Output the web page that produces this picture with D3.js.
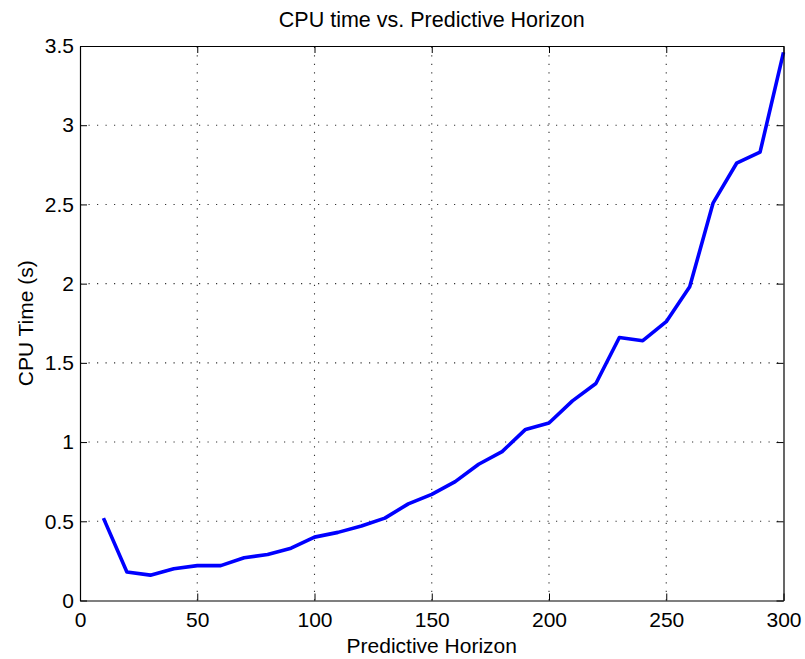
<!DOCTYPE html>
<html>
<head>
<meta charset="utf-8">
<script src="https://cdn.jsdelivr.net/npm/d3@7"></script>
<style>
  html, body { margin: 0; padding: 0; background: #fff; }
  svg { display: block; font-family: "Liberation Sans", Arial, Helvetica, sans-serif; }
</style>
</head>
<body>
<svg id="chart" width="805" height="659"></svg>
<script>
// Predictive horizon lengths and measured CPU time (seconds)
const horizon = [10, 20, 30, 40, 50, 60, 70, 80, 90, 100, 110, 120, 130, 140, 150,
                 160, 170, 180, 190, 200, 210, 220, 230, 240, 250, 260, 270, 280, 290, 300];
const cpuTime = [0.52, 0.18, 0.16, 0.20, 0.22, 0.22, 0.27, 0.29, 0.33, 0.40, 0.43, 0.47, 0.52, 0.61, 0.67,
                 0.75, 0.86, 0.94, 1.08, 1.12, 1.26, 1.37, 1.66, 1.64, 1.76, 1.98, 2.51, 2.76, 2.83, 3.46];
const xTicks = [0, 50, 100, 150, 200, 250, 300];
const yTicks = [0, 0.5, 1, 1.5, 2, 2.5, 3, 3.5];

const titleText = "CPU time vs. Predictive Horizon";
const xLabelText = "Predictive Horizon";
const yLabelText = "CPU Time (s)";

const svg = d3.select("#chart");
const plotLeft = 80, plotRight = 783.5, plotTop = 46, plotBottom = 600.5;
const fontSize = 21;

const x = d3.scaleLinear().domain([0, 300]).range([plotLeft, plotRight]);
const y = d3.scaleLinear().domain([0, 3.5]).range([plotBottom, plotTop]);

// Dotted grid
const grid = svg.append("g").attr("stroke", "#333").attr("stroke-width", 1.1)
  .attr("stroke-dasharray", "1.2,7.3");
grid.selectAll("line.gx").data(xTicks.slice(1, -1)).join("line")
  .attr("class", "gx")
  .attr("x1", d => x(d)).attr("x2", d => x(d)).attr("y1", plotBottom).attr("y2", plotTop);
grid.selectAll("line.gy").data(yTicks.slice(1, -1)).join("line")
  .attr("class", "gy")
  .attr("x1", plotLeft).attr("x2", plotRight).attr("y1", d => y(d)).attr("y2", d => y(d));

// Data line
const line = d3.line().x((d, i) => x(horizon[i])).y(d => y(d));
svg.append("path").datum(cpuTime)
  .attr("fill", "none").attr("stroke", "#0000ff").attr("stroke-width", 3.6)
  .attr("stroke-linejoin", "round")
  .attr("d", line);

// Axes with inward ticks on all four sides
const tickLen = 7;
const axB = d3.axisBottom(x).tickValues(xTicks).tickSizeInner(-tickLen).tickSizeOuter(0).tickPadding(12);
const axT = d3.axisTop(x).tickValues(xTicks).tickSizeInner(-tickLen).tickSizeOuter(0).tickFormat("");
const axL = d3.axisLeft(y).tickValues(yTicks).tickSizeInner(-tickLen).tickSizeOuter(0).tickPadding(6)
  .tickFormat(d => String(d));
const axR = d3.axisRight(y).tickValues(yTicks).tickSizeInner(-tickLen).tickSizeOuter(0).tickFormat("");

function style(g) {
  g.select(".domain").attr("stroke", "#000").attr("stroke-width", 1.2);
  g.selectAll(".tick line").attr("stroke", "#000").attr("stroke-width", 1);
  g.selectAll(".tick text").attr("fill", "#000").attr("font-size", fontSize)
    .attr("font-family", "Liberation Sans, Arial, sans-serif");
}
svg.append("g").attr("transform", `translate(0,${plotBottom})`).call(axB).call(style);
svg.append("g").attr("transform", `translate(0,${plotTop})`).call(axT).call(style);
svg.append("g").attr("transform", `translate(${plotLeft},0)`).call(axL).call(style);
svg.append("g").attr("transform", `translate(${plotRight},0)`).call(axR).call(style);

// Titles
svg.append("text").attr("x", (plotLeft + plotRight) / 2).attr("y", 27)
  .attr("text-anchor", "middle").attr("font-size", 21.5).text(titleText);
svg.append("text").attr("x", (plotLeft + plotRight) / 2).attr("y", 653)
  .attr("text-anchor", "middle").attr("font-size", fontSize).text(xLabelText);
svg.append("text").attr("transform", `translate(33,${(plotTop + plotBottom) / 2}) rotate(-90)`)
  .attr("text-anchor", "middle").attr("font-size", fontSize).text(yLabelText);
</script>
</body>
</html>
